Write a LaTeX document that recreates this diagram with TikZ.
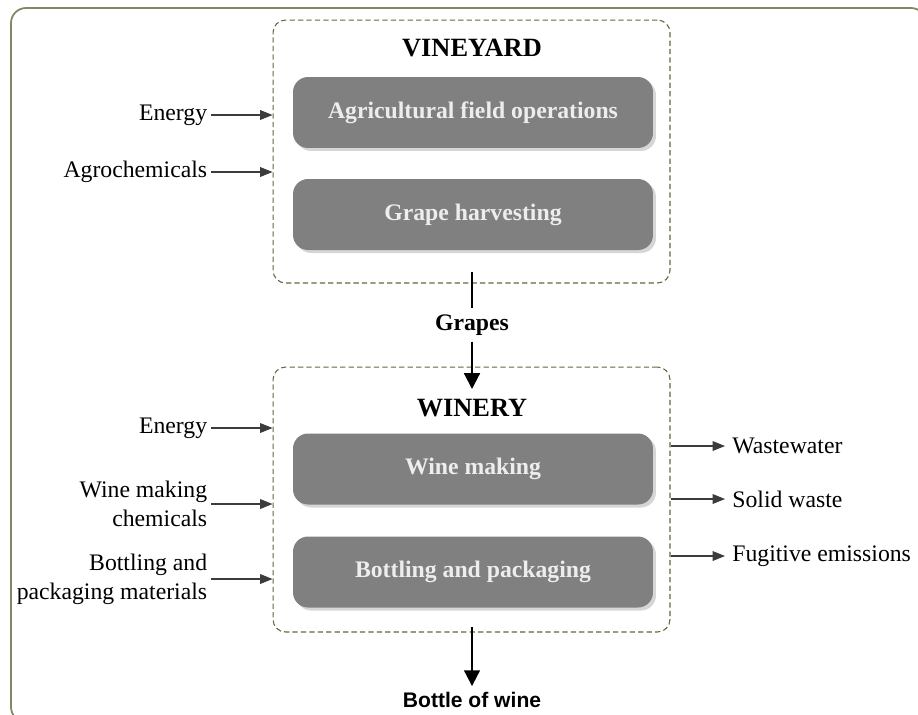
\documentclass[tikz,border=0pt]{standalone}
\usepackage{fontspec}
\setmainfont{Liberation Serif}
\newfontfamily\bottlefont{Liberation Sans}
\usetikzlibrary{arrows.meta, positioning, shadows}
\definecolor{olivedash}{RGB}{98,104,58}
\definecolor{framecol}{RGB}{130,136,100}
\definecolor{stagegray}{RGB}{128,128,128}
\definecolor{arrowgray}{RGB}{60,60,60}

\begin{document}
\begin{tikzpicture}[x=0.02cm, y=-0.02cm,
    stage/.style={fill=stagegray, rounded corners=0.3cm, minimum width=7.2cm, minimum height=1.42cm, align=center, text=white!93!black, font=\fontsize{13.5}{16}\selectfont\bfseries, drop shadow={shadow xshift=0.06cm, shadow yshift=-0.06cm, fill=black!16, opacity=1}},
    zone/.style={draw=olivedash, line width=0.6pt, dash pattern=on 3pt off 1.8pt, rounded corners=0.25cm, minimum width=7.94cm, inner sep=0pt},
    title/.style={font=\fontsize{15}{18}\selectfont\bfseries},
    input/.style={anchor=east, align=right, inner sep=2pt, font=\fontsize{13.5}{16.5}\selectfont},
    output/.style={anchor=west, inner sep=4pt, font=\fontsize{13.5}{16.5}\selectfont},
    arrow/.style={-{Triangle[length=7pt, width=5.5pt]}, draw=arrowgray, line width=0.6pt},
    mainarrow/.style={-{Triangle[length=9pt, width=9pt]}, line width=1.2pt}
]
    \useasboundingbox (0,0) rectangle (918,714);

    % Frame
    \draw[framecol, line width=1pt, rounded corners=0.3cm] (11,8) rectangle (926,722);

    % Zones
    \node[zone, minimum height=5.26cm] (vineyard) at (471.5,151.5) {};
    \node[zone, minimum height=5.3cm] (winery) at (471.5,499.5) {};
    \node[title] (vtitle) at (472,48) {VINEYARD};
    \node[title] (wtitle) at (472,408) {WINERY};

    % Stages
    \node[stage] (fieldops) at (473,112.5) {Agricultural field operations};
    \node[stage] (harvest) at (473,214.5) {Grape harvesting};
    \node[stage] (winemaking) at (473,469) {Wine making};
    \node[stage] (bottling) at (473,572) {Bottling and packaging};

    % Inputs
    \node[input] (energyv) at (211,115) {Energy};
    \node[input] (agro) at (211,172) {Agrochemicals};
    \node[input] (energyw) at (211,428) {Energy};
    \node[input] (chem) at (211,504) {Wine making\\chemicals};
    \node[input] (packmat) at (211,579) {Bottling and\\packaging materials};

    % Outputs
    \node[output] (wastewater) at (725,446) {Wastewater};
    \node[output] (solid) at (725,499) {Solid waste};
    \node[output] (fugitive) at (725,556) {Fugitive emissions};

    % Main flow
    \coordinate (grapestop) at (472,272);
    \node[font=\fontsize{13.5}{16}\selectfont\bfseries] (grapes) at (472,325) {Grapes};
    \coordinate (grapesend) at (472,389);
    \coordinate (bottletop) at (472,627);
    \node[font=\bottlefont\fontsize{12}{14}\selectfont\bfseries] (bottle) at (472,700) {Bottle of wine};

    % Arrows
    \draw[arrow] (energyv) -- (energyv -| vineyard.west);
    \draw[arrow] (agro) -- (agro -| vineyard.west);
    \draw[arrow] (energyw) -- (energyw -| winery.west);
    \draw[arrow] (chem) -- (chem -| winery.west);
    \draw[arrow] (packmat) -- (packmat -| winery.west);
    \draw[arrow] (wastewater -| winery.east) -- (wastewater);
    \draw[arrow] (solid -| winery.east) -- (solid);
    \draw[arrow] (fugitive -| winery.east) -- (fugitive);
    \draw[line width=1.2pt] (grapestop) -- (grapes);
    \draw[mainarrow] (grapes) -- (grapesend);
    \draw[mainarrow] (bottletop) -- (bottle);
\end{tikzpicture}
\end{document}
